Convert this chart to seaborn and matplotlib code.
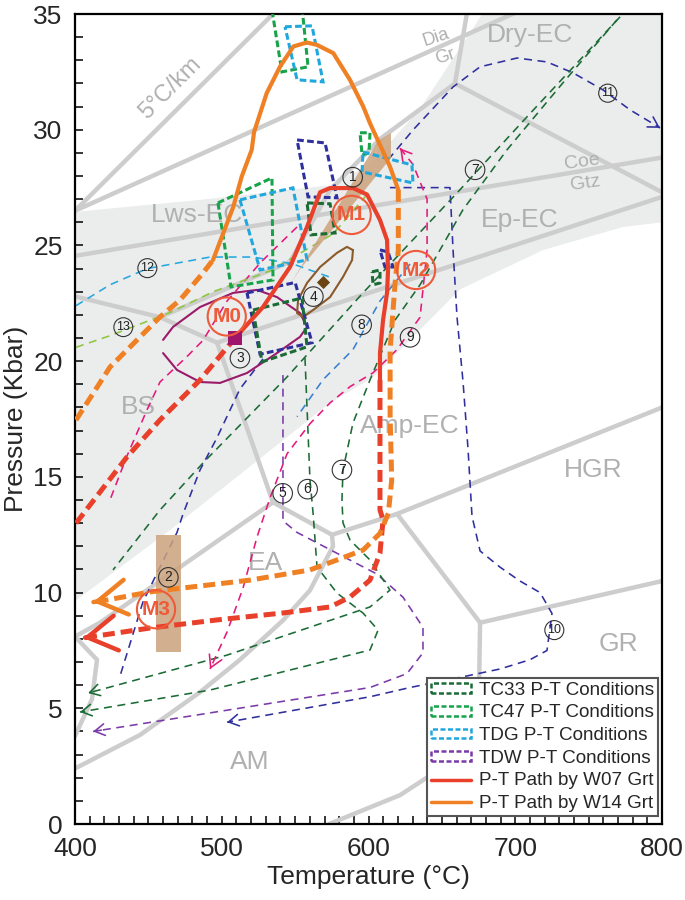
import matplotlib
matplotlib.use('Agg')
import matplotlib.pyplot as plt
import matplotlib.patches as mpatches
from matplotlib.lines import Line2D
from matplotlib.ticker import MultipleLocator
import seaborn as sns

sns.set_theme(style='white')
plt.rcParams['font.family'] = ['Liberation Sans', 'DejaVu Sans']

#------------ colours ------------#
RED = '#e8402a'
ORANGE = '#f08024'
MCOL = '#ee5a3a'
TAN = '#caa27c'
TC33 = '#1b6b35'
TC47 = '#17a34a'
TDG = '#20a8de'
TDW_BOX = '#2f2f9e'
TDW_LEG = '#7a3aa8'
GRID = '#cdcdcd'
SHADE = '#ebecec'
LABEL = '#b0b0b0'

#------------ facies grid (T in C, P in kbar) ------------#
shade_T = [400, 485.2, 573.8, 601.0, 635.1, 678.0, 800, 800, 773.4, 718.9, 662.3, 603.0, 573.8, 464.7, 401.4, 400]
shade_P = [26.45, 26.97, 27.6, 28.5, 30.9, 35.05, 35.05, 26.0, 25.8, 24.8, 23.1, 19.3, 18.2, 12.7, 9.7, 9.7]

g5_T = [400, 534.9]
g5_P = [26.5, 35.0]
ga_T = [400, 699.8]
ga_P = [26.5, 35.05]
gcoe_T = [400, 800]
gcoe_P = [24.55, 28.8]
gdia_T = [658.9, 667.1]
gdia_P = [32.0, 35.05]
gdry_T = [658.9, 800]
gdry_P = [32.0, 27.3]
glws_T = [457.9, 546.5, 573.8, 607.8, 658.9]
glws_P = [21.9, 24.3, 27.4, 29.6, 32.0]
gbs_T = [400, 457.9, 496.8]
gbs_P = [22.8, 21.9, 20.8]
gep_T = [496.8, 573.8, 800]
gep_P = [20.8, 22.4, 27.1]
geat_T = [496.8, 534.9]
geat_P = [20.8, 13.9]
geal_T = [534.9, 471.5, 417.0, 400]
geal_P = [13.9, 11.1, 8.7, 8.1]
gmid_T = [534.9, 575.1]
gmid_P = [13.9, 12.5]
ghgr_T = [575.1, 619.4, 800]
ghgr_P = [12.5, 13.4, 18.0]
ghg_T = [619.4, 676.0]
ghg_P = [13.4, 8.7]
ggr_T = [676.0, 800]
ggr_P = [8.7, 10.5]
gam_T = [676.0, 675.3, 658.9, 621.5, 573.1]
gam_P = [8.7, 5.8, 2.8, 1.25, 0.0]
geaam_T = [575.1, 575.8, 560.1, 541.7, 512.4, 485.2, 444.3, 400]
geaam_P = [12.5, 12.0, 10.1, 8.8, 7.1, 5.7, 3.85, 2.4]
globe_T = [400, 415.0, 411.6, 400]
globe_P = [8.1, 7.1, 5.4, 3.8]

facies_names = ['5°C/km', 'Dia', 'Gr', 'Dry-EC', 'Coe', 'Gtz', 'Ep-EC', 'Lws-EC', 'BS',
                'Amp-EC', 'HGR', 'EA', 'GR', 'AM']
facies_T = [464.7, 646.0, 652.1, 710.0, 745.5, 747.5, 703.2, 483.1, 443.0, 628.3, 753.0, 529.5, 770.0, 519.2]
facies_P = [31.8, 34.0, 33.15, 34.1, 28.6, 27.7, 26.1, 26.3, 18.0, 17.2, 15.3, 11.3, 7.8, 2.7]
facies_size = [17, 13, 13, 19, 14, 14, 19, 19, 19, 19, 19, 19, 19, 19]
facies_rot = [45, 18, 18, 0, 8, 8, 0, 0, 0, 0, 0, 0, 0, 0]

#------------ P-T paths ------------#
red_pro_T = [400.7, 435.4, 457.9, 485.2, 509.0]
red_pro_P = [13.0, 15.86, 17.46, 19.19, 21.0]
red_peak_T = [509.0, 528.1, 546.5, 558.1, 567.0, 573.8, 589.4, 599.0, 607.8, 612.6, 613.3, 612.6, 609.9, 607.8, 607.8]
red_peak_P = [21.0, 22.34, 24.07, 25.8, 27.3, 27.48, 27.48, 27.2, 26.1, 25.24, 23.94, 22.95, 21.78, 20.35, 19.19]
red_retro_T = [607.8, 607.8, 607.8, 609.9, 607.8, 601.0, 587.4, 573.8, 541.7, 496.8, 451.1, 405.5]
red_retro_P = [19.19, 16.16, 13.57, 13.14, 11.71, 10.54, 9.81, 9.38, 9.12, 8.82, 8.47, 8.04]

or_pro_T = [400.7, 423.9, 457.9, 471.5, 487.2, 494.0]
or_pro_P = [17.46, 19.75, 21.91, 22.64, 23.81, 24.37]
or_peak_T = [494.0, 501.0, 507.9, 513.6, 520.4, 522.0, 530.6, 539.7, 548.8, 557.9, 564.7, 576.0, 587.4, 596.4, 601.0, 614.6, 620.3]
or_peak_P = [24.37, 25.53, 26.68, 27.98, 29.13, 29.9, 31.58, 32.73, 33.6, 33.77, 33.67, 33.31, 32.15, 31.0, 30.28, 28.41, 27.4]
or_retro_T = [620.3, 620.3, 618.1, 614.7, 614.7, 615.8, 613.5, 607.8, 596.3, 578.5, 560.1, 519.3, 473.6, 451.1, 421.8, 412.3]
or_retro_P = [27.4, 24.8, 23.38, 20.48, 17.6, 14.87, 13.43, 12.56, 11.84, 11.41, 10.98, 10.54, 10.2, 10.03, 9.68, 9.59]

#------------ literature paths (thin dashed) ------------#
p11_T = [613.3, 630.3, 657.6, 676.0, 701.2, 721.6, 739.3, 759.8, 778.2, 798.6]
p11_P = [28.7, 29.99, 31.85, 32.72, 33.1, 32.93, 32.46, 31.72, 30.86, 30.08]
p10_T = [614.6, 655.5, 657.6, 660.3, 664.4, 667.8, 670.5, 676.0, 689.6, 703.2, 716.9, 725.0, 721.6, 710.0, 689.6, 667.1, 628.3, 601.0, 503.6]
p10_P = [27.5, 27.5, 24.8, 21.9, 19.1, 16.2, 13.3, 11.8, 11.1, 10.5, 10.0, 9.1, 7.5, 7.1, 6.7, 6.4, 5.9, 5.5, 4.4]
p5_T = [541.7, 541.7, 541.7, 551.3, 578.5, 605.8, 623.5, 637.1, 637.1, 626.2, 601.0, 412.3]
p5_P = [19.4, 14.9, 13.1, 12.6, 11.7, 10.8, 9.8, 8.5, 7.4, 6.5, 5.9, 4.0]
p6_T = [556.7, 560.1, 562.2, 564.9, 578.5, 596.2, 606.5, 601.0, 492.0, 403.4]
p6_P = [20.14, 14.87, 13.44, 11.11, 9.98, 9.12, 8.38, 7.52, 5.79, 4.84]
p7_T = [769.3, 732.5, 694.3, 664.3, 635.1, 618.1, 601.0, 589.4, 582.6, 581.9, 582.6, 587.4, 601.0, 614.6, 601.0, 503.6, 408.9]
p7_P = [34.75, 32.03, 29.13, 26.54, 23.3, 21.78, 19.19, 17.33, 15.3, 14.0, 13.01, 12.27, 11.41, 10.11, 9.38, 7.3, 5.66]
pg_T = [771.4, 708.0, 660.3, 596.2, 544.5, 487.2, 457.9, 425.9]
pg_P = [34.88, 30.56, 27.27, 22.95, 19.32, 15.6, 13.57, 10.98]
p9_T = [621.5, 630.3, 639.9, 639.9, 635.1, 619.4, 603.1, 587.4, 573.8, 560.1, 544.5, 532.9, 524.0, 514.5, 503.6, 492.0]
p9_P = [29.2, 28.5, 27.0, 24.8, 21.9, 20.5, 19.5, 18.9, 18.2, 17.3, 16.0, 14.1, 12.4, 10.2, 8.3, 6.7]
pm_T = [551.3, 527.0, 503.6, 487.2, 476.3, 457.9, 449.1, 435.4, 423.8]
pm_P = [25.8, 24.3, 22.6, 20.9, 20.2, 19.1, 17.9, 15.9, 14.0]
p3_T = [528.1, 512.4, 496.8, 485.2, 473.6, 469.5, 446.3, 430.7]
p3_P = [20.1, 18.8, 16.7, 15.3, 13.4, 12.6, 9.6, 6.4]
p8_T = [628.3, 607.8, 589.4, 569.0, 551.3]
p8_P = [24.2, 22.6, 20.5, 19.2, 17.6]
p12_T = [400.7, 423.8, 449.1, 492.0, 521.3, 548.5, 575.0]
p12_P = [22.4, 23.3, 24.0, 24.5, 24.5, 24.2, 23.6]
p13_T = [400.7, 423.8, 464.7, 494.0, 532.9, 575.8, 599.0]
p13_P = [20.6, 21.1, 22.1, 23.0, 23.9, 25.5, 27.2]

m0_T = [460.0, 466.8, 485.2, 507.7, 524.0, 537.6, 553.3, 558.1, 553.3, 537.6, 517.2, 498.8, 485.2, 469.5, 460.0]
m0_P = [20.92, 21.48, 22.34, 22.95, 23.08, 22.77, 22.08, 21.48, 21.05, 20.35, 19.49, 19.06, 19.1, 19.62, 20.35]
ell_T = [589.4, 585.3, 578.5, 567.0, 558.1, 552.0, 551.3, 555.4, 562.2, 573.8, 582.6, 588.8, 589.4]
ell_P = [24.8, 24.94, 24.68, 24.07, 23.38, 22.64, 22.08, 21.91, 22.21, 22.77, 23.64, 24.37, 24.8]

#------------ P-T condition boxes ------------#
tc47_top = [(534.2, 35.18), (554.7, 35.27), (558.8, 32.72), (541.0, 32.5)]
tdg_top = [(543.1, 34.45), (561.5, 34.49), (569.0, 32.07), (551.3, 32.16)]
tdw_top = [(551.3, 29.56), (570.4, 29.43), (578.5, 27.06), (558.8, 27.1)]
tc47_left = [(497.4, 26.84), (534.2, 27.92), (534.9, 23.51), (506.3, 23.21)]
tdg_left = [(512.4, 26.97), (548.5, 27.49), (558.1, 24.38), (526.1, 23.94)]
tc33_m1 = [(558.1, 26.84), (573.8, 26.8), (577.2, 25.54), (560.8, 25.46)]
tdw_low = [(517.2, 22.95), (550.0, 23.4), (561.5, 20.8), (526.1, 20.3)]
tc33_low = [(521.3, 22.21), (554.7, 22.73), (558.1, 20.62), (527.4, 19.97)]
tc47_right = [(594.2, 29.87), (601.0, 29.87), (600.3, 29.0), (595.6, 28.91)]
tdg_right = [(596.2, 29.04), (629.6, 28.48), (630.3, 27.7), (595.6, 28.18)]
tdw_m2 = [(607.8, 24.81), (613.3, 24.72), (616.7, 24.07), (611.2, 24.07)]
tc33_m2 = [(602.4, 23.86), (607.8, 23.94), (607.8, 23.38), (603.1, 23.3)]

tan_band = [(606.5, 29.52), (615.3, 29.86), (615.3, 28.78), (554.0, 24.03), (547.2, 23.38)]
tan_rect_T = [455.2, 472.2]
tan_rect_P = [7.43, 12.49]

#------------ labels ------------#
m_names = ['M0', 'M1', 'M2', 'M3']
m_T = [503.4, 588.5, 632.4, 455.2]
m_P = [21.93, 26.32, 23.94, 9.28]
num_names = ['1', '2', '3', '4', '5', '6', '7', '7', '8', '9', '10', '11', '12', '13']
num_T = [589.2, 463.6, 512.4, 562.4, 541.5, 558.5, 581.9, 672.6, 595.3, 628.3, 726.6, 763.0, 449.3, 432.9]
num_P = [27.95, 10.66, 20.13, 22.79, 14.29, 14.47, 15.3, 28.27, 21.57, 21.03, 8.38, 31.58, 24.02, 21.47]


fig = plt.figure(figsize=(6.85, 9), dpi=100)
ax = fig.add_axes([0.1095, 0.0844, 0.857, 0.900])


def line(T, P, color, lw, ls='-', z=2):
    sns.lineplot(x=T, y=P, sort=False, estimator=None, color=color, lw=lw,
                 linestyle=ls, ax=ax, zorder=z)


def chevron(T, P, color, lw, scale, z=4, hl=0.6, hw=0.35):
    # open arrow head on the last point of a path
    t0 = T[-1] + (T[-2] - T[-1]) * 0.03
    p0 = P[-1] + (P[-2] - P[-1]) * 0.03
    ax.annotate('', xy=(T[-1], P[-1]), xytext=(t0, p0),
                arrowprops=dict(arrowstyle='->,head_length=%s,head_width=%s' % (hl, hw),
                                color=color, lw=lw, shrinkA=0, shrinkB=0,
                                mutation_scale=scale), zorder=z)


# background
ax.fill(shade_T, shade_P, color=SHADE, lw=0, zorder=0)
for T, P in [(g5_T, g5_P), (ga_T, ga_P), (gcoe_T, gcoe_P), (gdia_T, gdia_P), (gdry_T, gdry_P),
             (glws_T, glws_P), (gbs_T, gbs_P), (gep_T, gep_P), (geat_T, geat_P), (geal_T, geal_P),
             (gmid_T, gmid_P), (ghgr_T, ghgr_P), (ghg_T, ghg_P), (ggr_T, ggr_P), (gam_T, gam_P),
             (geaam_T, geaam_P), (globe_T, globe_P)]:
    line(T, P, GRID, 3.2, z=1)

for name, t, p, s, r in zip(facies_names, facies_T, facies_P, facies_size, facies_rot):
    ax.text(t, p, name, color=LABEL, fontsize=s, rotation=r, ha='center', va='center',
            rotation_mode='anchor', zorder=1.5)

# tan bands
ax.add_patch(mpatches.Polygon(tan_band, closed=True, fc=TAN, ec='none', alpha=0.85, zorder=2.5))
ax.add_patch(mpatches.Rectangle((tan_rect_T[0], tan_rect_P[0]), tan_rect_T[1] - tan_rect_T[0],
                                tan_rect_P[1] - tan_rect_P[0], fc=TAN, ec='none', alpha=0.85, zorder=2.5))

# thin dashed literature paths
thin = (0, (5, 3.5))
line(p11_T, p11_P, TDW_BOX, 1.15, thin)
chevron(p11_T, p11_P, TDW_BOX, 1.15, 12)
line(p10_T, p10_P, TDW_BOX, 1.15, thin)
chevron(p10_T, p10_P, TDW_BOX, 1.15, 12)
line(p5_T, p5_P, TDW_LEG, 1.15, thin)
chevron(p5_T, p5_P, TDW_LEG, 1.15, 12)
line(p6_T, p6_P, TC33, 1.15, thin)
chevron(p6_T, p6_P, TC33, 1.15, 12)
line(p7_T, p7_P, TC33, 1.15, thin)
chevron(p7_T, p7_P, TC33, 1.15, 12)
line(pg_T, pg_P, TC33, 1.15, thin)
line(p9_T, p9_P, '#e5197a', 1.15, thin)
chevron(p9_T, p9_P, '#e5197a', 1.15, 14)
chevron(p9_T[::-1], p9_P[::-1], '#e5197a', 1.15, 12)
line(pm_T, pm_P, '#e5197a', 1.15, thin)
line(p3_T, p3_P, TDW_BOX, 1.15, thin)
line(p8_T, p8_P, '#3a80d0', 1.15, thin)
line(p12_T, p12_P, '#25a8e0', 1.15, thin)
line(p13_T, p13_P, '#8dc63f', 1.15, thin)

line(m0_T, m0_P, '#9b1b6b', 1.5, z=3)
line(ell_T, ell_P, '#8b5a2b', 1.5, z=3)
ax.scatter([569.0], [23.42], marker='D', s=45, color='#6b4513', zorder=3.5, lw=0)

# P-T condition boxes
box_dash = (0, (2.2, 1.1))
for verts, col in [(tc47_top, TC47), (tdg_top, TDG), (tdw_top, TDW_BOX), (tc47_left, TC47),
                   (tdg_left, TDG), (tc33_m1, TC33), (tdw_low, TDW_BOX), (tc33_low, TC33),
                   (tc47_right, TC47), (tdg_right, TDG), (tdw_m2, TDW_BOX), (tc33_m2, TC33)]:
    ax.add_patch(mpatches.Polygon(verts, closed=True, fill=False, ec=col, lw=2.2,
                                  linestyle=box_dash, zorder=3))

# main P-T paths
thick = (0, (2.4, 1.2))
line(red_pro_T, red_pro_P, RED, 3.6, thick, z=4)
line(red_peak_T, red_peak_P, RED, 3.0, z=4)
line(red_retro_T, red_retro_P, RED, 3.6, thick, z=4)
chevron(red_retro_T, red_retro_P, RED, 3.2, 28, hl=0.75, hw=0.45)
line(or_pro_T, or_pro_P, ORANGE, 3.6, thick, z=4)
line(or_peak_T, or_peak_P, ORANGE, 3.0, z=4)
line(or_retro_T, or_retro_P, ORANGE, 3.6, thick, z=4)
chevron(or_retro_T, or_retro_P, ORANGE, 3.2, 28, hl=0.75, hw=0.45)

ax.scatter([509.0], [21.0], marker='s', s=110, color='#a0156c', zorder=4.5, lw=0)

for name, t, p in zip(m_names, m_T, m_P):
    ax.text(t, p, name, color=MCOL, fontsize=15, fontweight='bold', ha='center', va='center',
            zorder=5, bbox=dict(boxstyle='circle,pad=0.22', fc='none', ec=MCOL, lw=1.5))

for name, t, p in zip(num_names, num_T, num_P):
    ax.text(t, p, name, color='#222222', fontsize=10 if len(name) == 1 else 9, ha='center',
            va='center', zorder=5,
            bbox=dict(boxstyle='circle,pad=0.2', fc='none', ec='#333333', lw=0.8))

# axes
ax.set_xlim(400, 800)
ax.set_ylim(0, 35)
ax.xaxis.set_major_locator(MultipleLocator(100))
ax.xaxis.set_minor_locator(MultipleLocator(10))
ax.yaxis.set_major_locator(MultipleLocator(5))
ax.yaxis.set_minor_locator(MultipleLocator(1))
ax.tick_params(which='both', direction='in', length=6, width=1.1, color='black',
               bottom=True, left=True, top=False, right=False, labelsize=19)
ax.tick_params(axis='x', which='major', pad=9)
ax.tick_params(axis='y', which='major', pad=9)
for s in ax.spines.values():
    s.set_color('black')
    s.set_linewidth(1.6)
ax.set_xlabel('Temperature (°C)', fontsize=19, labelpad=3)
ax.set_ylabel('Pressure (Kbar)', fontsize=19, labelpad=4)

handles = [
    mpatches.Patch(fc='none', ec=TC33, lw=1.8, linestyle=(0, (2, 1)), label='TC33 P-T Conditions'),
    mpatches.Patch(fc='none', ec=TC47, lw=1.8, linestyle=(0, (2, 1)), label='TC47 P-T Conditions'),
    mpatches.Patch(fc='none', ec=TDG, lw=1.8, linestyle=(0, (2, 1)), label='TDG P-T Conditions'),
    mpatches.Patch(fc='none', ec=TDW_LEG, lw=1.8, linestyle=(0, (2, 1)), label='TDW P-T Conditions'),
    Line2D([], [], color=RED, lw=2.5, label='P-T Path by W07 Grt'),
    Line2D([], [], color=ORANGE, lw=2.5, label='P-T Path by W14 Grt'),
]
leg = ax.legend(handles=handles, loc='lower right', bbox_to_anchor=(0.993, 0.01), borderaxespad=0,
                fontsize=13.6, frameon=True, fancybox=False, framealpha=1, handlelength=2.1,
                handleheight=0.4, labelspacing=0.3, borderpad=0.2, handletextpad=0.45)
leg.get_frame().set_edgecolor('#555555')
leg.get_frame().set_linewidth(1.5)
leg.set_zorder(10)

fig.savefig('out.png', dpi=100)
